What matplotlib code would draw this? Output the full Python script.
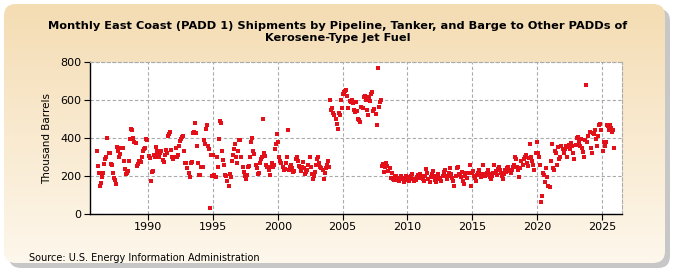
import matplotlib
matplotlib.use("Agg")
import matplotlib.pyplot as plt
import numpy as np
from matplotlib.patches import FancyBboxPatch

# Monthly values (thousand barrels), Jan..Dec per year
values_by_year = {
    1986: [330, 255, 215, 150, 165, 195, 215, 262, 290, 300, 400, 320],
    1987: [320, 262, 258, 215, 190, 180, 158, 355, 330, 300, 315, 345],
    1988: [345, 280, 235, 210, 218, 228, 280, 395, 450, 440, 400, 380],
    1989: [375, 255, 265, 280, 280, 275, 300, 330, 340, 345, 395, 390],
    1990: [305, 295, 175, 220, 228, 310, 300, 355, 330, 315, 300, 320],
    1991: [330, 285, 275, 310, 335, 320, 410, 420, 430, 335, 300, 290],
    1992: [300, 350, 300, 310, 360, 385, 395, 405, 410, 330, 270, 270],
    1993: [240, 215, 195, 270, 275, 425, 430, 480, 425, 360, 270, 205],
    1994: [205, 250, 245, 390, 370, 450, 470, 360, 340, 30, 310, 200],
    1995: [310, 205, 195, 300, 250, 395, 490, 480, 330, 285, 260, 205],
    1996: [200, 175, 150, 210, 195, 280, 310, 340, 370, 300, 270, 330],
    1997: [390, 390, 300, 250, 220, 200, 185, 205, 250, 255, 300, 380],
    1998: [400, 330, 315, 260, 240, 210, 215, 270, 290, 300, 500, 320],
    1999: [305, 260, 245, 230, 205, 250, 270, 250, 260, 340, 370, 420],
    2000: [380, 300, 280, 270, 250, 230, 235, 270, 300, 440, 230, 250],
    2001: [260, 240, 220, 225, 290, 300, 280, 255, 245, 225, 250, 275],
    2002: [240, 210, 220, 230, 260, 300, 250, 210, 185, 200, 220, 260],
    2003: [290, 300, 270, 250, 240, 230, 185, 215, 240, 260, 280, 250],
    2004: [600, 550, 560, 530, 520, 500, 475, 445, 530, 520, 600, 560],
    2005: [630, 640, 650, 655, 620, 560, 595, 590, 600, 585, 550, 535],
    2006: [590, 540, 500, 495, 485, 565, 560, 615, 620, 600, 545, 520],
    2007: [615, 595, 630, 640, 540, 555, 525, 470, 770, 565, 590, 600],
    2008: [255, 265, 222, 250, 270, 255, 228, 240, 190, 215, 185, 180],
    2009: [195, 200, 185, 180, 175, 190, 200, 185, 170, 190, 200, 195],
    2010: [180, 175, 190, 200, 210, 185, 175, 180, 195, 205, 190, 210],
    2011: [200, 190, 185, 175, 200, 235, 215, 185, 170, 195, 210, 225],
    2012: [200, 180, 170, 190, 210, 185, 190, 175, 200, 220, 230, 200],
    2013: [185, 200, 215, 240, 210, 190, 175, 150, 200, 240, 250, 210],
    2014: [205, 195, 220, 175, 160, 200, 215, 190, 215, 260, 150, 215],
    2015: [225, 200, 190, 175, 205, 215, 230, 210, 195, 260, 210, 200],
    2016: [205, 215, 230, 210, 195, 185, 200, 215, 260, 225, 205, 235],
    2017: [245, 230, 215, 200, 185, 210, 230, 220, 240, 250, 225, 215],
    2018: [230, 250, 260, 300, 290, 250, 230, 195, 240, 280, 260, 290],
    2019: [300, 310, 270, 255, 295, 370, 300, 280, 260, 230, 320, 380],
    2020: [320, 300, 260, 65, 95, 215, 205, 170, 240, 195, 150, 140],
    2021: [280, 370, 240, 230, 330, 320, 260, 355, 290, 300, 360, 340],
    2022: [320, 340, 360, 300, 355, 365, 340, 375, 360, 320, 290, 365],
    2023: [400, 405, 380, 360, 395, 350, 325, 300, 390, 680, 380, 410],
    2024: [430, 350, 320, 425, 420, 440, 395, 360, 410, 470, 475, 440],
    2025: [330, 380, 360, 380, 470, 465, 440, 470, 455, 430, 440, 345],
}

years = sorted(values_by_year)
x_vals = []
y_vals = []
for yr in years:
    for m, v in enumerate(values_by_year[yr]):
        x_vals.append(yr + m / 12.0 + 0.04)
        y_vals.append(v)

title = "Monthly East Coast (PADD 1) Shipments by Pipeline, Tanker, and Barge to Other PADDs of\nKerosene-Type Jet Fuel"
ylabel = "Thousand Barrels"
source = "Source: U.S. Energy Information Administration"
xticks = [1990, 1995, 2000, 2005, 2010, 2015, 2020, 2025]
yticks = [0, 200, 400, 600, 800]

W, H = 675, 275
fig = plt.figure(figsize=(W / 100, H / 100), dpi=100)
fig.patch.set_facecolor("white")

# background panel with shadow and gradient
bg = fig.add_axes([0, 0, 1, 1])
bg.set_xlim(0, W)
bg.set_ylim(H, 0)
bg.axis("off")
shadow = FancyBboxPatch((9, 9), W - 14, H - 16, boxstyle="round,pad=0,rounding_size=12",
                        facecolor="#9a9a9a", edgecolor="none", alpha=0.55)
bg.add_patch(shadow)
panel = FancyBboxPatch((4, 4), W - 14, H - 16, boxstyle="round,pad=0,rounding_size=12",
                       facecolor="none", edgecolor="none")
bg.add_patch(panel)
top = np.array([244, 220, 178]) / 255
bot = np.array([254, 248, 238]) / 255
t = np.linspace(0, 1, 256)[:, None]
grad = top[None, :] * (1 - t) + bot[None, :] * t
grad = np.repeat(grad[:, None, :], 2, axis=1)
im = bg.imshow(grad, extent=[0, W, H, 0], aspect="auto", zorder=1)
im.set_clip_path(panel)
bg.set_xlim(0, W)
bg.set_ylim(H, 0)

narrow = ["Liberation Sans Narrow", "DejaVu Sans"]
fig.text(338 / W, 1 - 32 / H, title, ha="center", va="center", fontsize=8.2,
         fontweight="bold", family=narrow, linespacing=1.3)
fig.text(29 / W, 1 - 258 / H, source, ha="left", va="center", fontsize=7, family=narrow)

ax = fig.add_axes([90 / W, 1 - 214 / H, (622 - 90) / W, (214 - 62) / H])
ax.set_facecolor("white")
ax.plot(x_vals, y_vals, linestyle="none", marker="s", markersize=3.2,
        color="#E3101A", markeredgewidth=0, zorder=3)
ax.set_xlim(1985.53, 2026.54)
ax.set_ylim(0, 800)
ax.set_xticks(xticks)
ax.set_yticks(yticks)
ax.grid(True, linestyle=(0, (3, 2)), color="#aaaaaa", linewidth=0.8)
ax.set_axisbelow(True)
for s in ["top", "right"]:
    ax.spines[s].set_visible(True)
    ax.spines[s].set_linestyle((0, (3, 2)))
    ax.spines[s].set_color("#aaaaaa")
    ax.spines[s].set_linewidth(0.8)
for s in ["left", "bottom"]:
    ax.spines[s].set_color("black")
    ax.spines[s].set_linewidth(1.0)
ax.tick_params(axis="both", length=4, width=0.8, labelsize=8, pad=2, direction="out")
for lab in ax.get_xticklabels() + ax.get_yticklabels():
    lab.set_family(narrow)
ax.set_ylabel(ylabel, fontsize=7.5, family=narrow, labelpad=6)

fig.savefig("out.png", dpi=100)
